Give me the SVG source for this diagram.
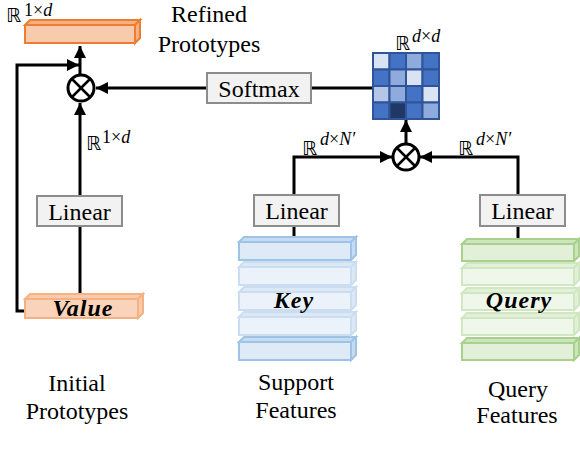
<svg xmlns="http://www.w3.org/2000/svg" width="580" height="460" viewBox="0 0 580 460">
<defs>
  <marker id="arr" viewBox="0 0 12 12" refX="12" refY="6" markerWidth="12" markerHeight="12" markerUnits="userSpaceOnUse" orient="auto">
    <path d="M0,0 L12,6 L0,12 Z" fill="#000"/>
  </marker>
</defs>
<g id="connectors" fill="none" stroke="#000" stroke-width="3">
  <line x1="80" y1="74" x2="80" y2="46" marker-end="url(#arr)"/>
  <polyline points="25,311 17,311 17,65 79,65" marker-end="url(#arr)"/>
  <line x1="80" y1="294" x2="80" y2="226"/>
  <line x1="80" y1="196" x2="80" y2="103" marker-end="url(#arr)"/>
  <line x1="207" y1="88" x2="96" y2="88" marker-end="url(#arr)"/>
  <line x1="373" y1="88" x2="311" y2="88"/>
  <line x1="406" y1="143" x2="406" y2="120" marker-end="url(#arr)"/>
  <polyline points="294,195 294,157 392,157" marker-end="url(#arr)"/>
  <line x1="294" y1="226" x2="294" y2="237"/>
  <polyline points="518,195 518,157 420,157" marker-end="url(#arr)"/>
  <line x1="518" y1="226" x2="518" y2="239"/>
</g>
<g id="refined">
  <g stroke="#ED7D31" stroke-width="2">
    <polygon fill="#F4B183" points="25,25 30,20 140,20 135,25"/>
    <rect fill="#F8CBAD" x="25" y="25" width="110" height="18"/>
    <polygon fill="#F4B183" points="135,25 140,20 140,38 135,43"/>
  </g>
  <text font-family="DejaVu Sans" font-size="19" x="6" y="22">ℝ</text>
  <text font-family="Liberation Serif" font-size="18" x="24" y="16">1×<tspan font-style="italic">d</tspan></text>
  <text font-family="Liberation Serif" font-size="24" x="209" y="22" text-anchor="middle">Refined</text>
  <text font-family="Liberation Serif" font-size="24" x="209" y="52" text-anchor="middle">Prototypes</text>
</g>
<g id="mul1" stroke="#000">
  <circle fill="#fff" stroke-width="3" cx="81" cy="88" r="13"/>
  <line stroke-width="2.5" x1="72" y1="79" x2="90" y2="97"/>
  <line stroke-width="2.5" x1="90" y1="79" x2="72" y2="97"/>
</g>
<g id="softmax">
  <rect fill="#F2F2F2" stroke="#8C8C8C" stroke-width="2" x="207" y="73" width="104" height="30"/>
  <text font-family="Liberation Serif" font-size="24" x="259" y="97" text-anchor="middle">Softmax</text>
</g>
<g id="matrix">
  <g stroke="#2F5597" stroke-width="2">
    <rect x="373" y="53" width="16.5" height="16.5" fill="#DAE3F3"/>
    <rect x="389.5" y="53" width="16.5" height="16.5" fill="#4472C4"/>
    <rect x="406" y="53" width="16.5" height="16.5" fill="#8FAADC"/>
    <rect x="422.5" y="53" width="16.5" height="16.5" fill="#4472C4"/>
    <rect x="373" y="69.5" width="16.5" height="16.5" fill="#4472C4"/>
    <rect x="389.5" y="69.5" width="16.5" height="16.5" fill="#8FAADC"/>
    <rect x="406" y="69.5" width="16.5" height="16.5" fill="#DAE3F3"/>
    <rect x="422.5" y="69.5" width="16.5" height="16.5" fill="#4472C4"/>
    <rect x="373" y="86" width="16.5" height="16.5" fill="#B4C7E7"/>
    <rect x="389.5" y="86" width="16.5" height="16.5" fill="#8FAADC"/>
    <rect x="406" y="86" width="16.5" height="16.5" fill="#4472C4"/>
    <rect x="422.5" y="86" width="16.5" height="16.5" fill="#DAE3F3"/>
    <rect x="373" y="102.5" width="16.5" height="16.5" fill="#4472C4"/>
    <rect x="389.5" y="102.5" width="16.5" height="16.5" fill="#203864"/>
    <rect x="406" y="102.5" width="16.5" height="16.5" fill="#4472C4"/>
    <rect x="422.5" y="102.5" width="16.5" height="16.5" fill="#8FAADC"/>
  </g>
  <text font-family="DejaVu Sans" font-size="19" x="395" y="50">ℝ</text>
  <text font-family="Liberation Serif" font-size="18" font-style="italic" x="412" y="42">d<tspan font-style="normal">×</tspan>d</text>
</g>
<g id="mul2">
  <g stroke="#000">
    <circle fill="#fff" stroke-width="3" cx="406" cy="157" r="13"/>
    <line stroke-width="2.5" x1="397" y1="148" x2="415" y2="166"/>
    <line stroke-width="2.5" x1="415" y1="148" x2="397" y2="166"/>
  </g>
  <text font-family="DejaVu Sans" font-size="19" x="302" y="155">ℝ</text>
  <text font-family="Liberation Serif" font-size="18" font-style="italic" x="320" y="145">d<tspan font-style="normal">×</tspan>N′</text>
  <text font-family="DejaVu Sans" font-size="19" x="458" y="155">ℝ</text>
  <text font-family="Liberation Serif" font-size="18" font-style="italic" x="476" y="145">d<tspan font-style="normal">×</tspan>N′</text>
</g>
<g id="linear-value">
  <rect fill="#F2F2F2" stroke="#8C8C8C" stroke-width="2" x="37" y="196" width="85" height="30"/>
  <text font-family="Liberation Serif" font-size="24" x="79.5" y="220" text-anchor="middle">Linear</text>
  <text font-family="DejaVu Sans" font-size="19" x="86" y="150">ℝ</text>
  <text font-family="Liberation Serif" font-size="18" x="102" y="143">1×<tspan font-style="italic">d</tspan></text>
</g>
<g id="value">
  <g stroke="#F4B183" stroke-width="2">
    <polygon fill="#F8CBAD" points="25,299 30,294 143,294 138,299"/>
    <rect fill="#FAD4BA" x="25" y="299" width="113" height="19"/>
    <polygon fill="#F8CBAD" points="138,299 143,294 143,313 138,318"/>
  </g>
  <text font-family="Liberation Serif" font-size="24" font-weight="bold" font-style="italic" letter-spacing="1" x="83" y="316" text-anchor="middle">Value</text>
  <text font-family="Liberation Serif" font-size="24" x="77" y="391" text-anchor="middle">Initial</text>
  <text font-family="Liberation Serif" font-size="24" x="77" y="419" text-anchor="middle">Prototypes</text>
</g>
<g id="linear-key">
  <rect fill="#F2F2F2" stroke="#8C8C8C" stroke-width="2" x="254" y="195" width="85" height="31"/>
  <text font-family="Liberation Serif" font-size="24" x="296.5" y="219" text-anchor="middle">Linear</text>
</g>
<g id="key">
  <g stroke="#9DC3E6" stroke-width="2">
    <polygon fill="#C6DBF0" points="239,242 244,237 356,237 351,242"/>
    <rect fill="#DEEBF7" x="239" y="242" width="112" height="18"/>
    <polygon fill="#C6DBF0" points="351,242 356,237 356,255 351,260"/>
    <polygon fill="#C6DBF0" points="239,342 244,337 356,337 351,342"/>
    <rect fill="#DEEBF7" x="239" y="342" width="112" height="18"/>
    <polygon fill="#C6DBF0" points="351,342 356,337 356,355 351,360"/>
  </g>
  <g stroke="#CADDF1" stroke-width="2">
    <polygon fill="#DCE8F5" points="239,267 244,262 356,262 351,267"/>
    <rect fill="#EBF2FA" x="239" y="267" width="112" height="18"/>
    <polygon fill="#DCE8F5" points="351,267 356,262 356,280 351,285"/>
    <polygon fill="#DCE8F5" points="239,292 244,287 356,287 351,292"/>
    <rect fill="#EBF2FA" x="239" y="292" width="112" height="18"/>
    <polygon fill="#DCE8F5" points="351,292 356,287 356,305 351,310"/>
    <polygon fill="#DCE8F5" points="239,317 244,312 356,312 351,317"/>
    <rect fill="#EBF2FA" x="239" y="317" width="112" height="18"/>
    <polygon fill="#DCE8F5" points="351,317 356,312 356,330 351,335"/>
  </g>
  <text font-family="Liberation Serif" font-size="24" font-weight="bold" font-style="italic" letter-spacing="1" x="294" y="308" text-anchor="middle">Key</text>
  <text font-family="Liberation Serif" font-size="24" x="296" y="390" text-anchor="middle">Support</text>
  <text font-family="Liberation Serif" font-size="24" x="296" y="418" text-anchor="middle">Features</text>
</g>
<g id="linear-query">
  <rect fill="#F2F2F2" stroke="#8C8C8C" stroke-width="2" x="480" y="195" width="85" height="31"/>
  <text font-family="Liberation Serif" font-size="24" x="522.5" y="219" text-anchor="middle">Linear</text>
</g>
<g id="query">
  <g stroke="#A9D18E" stroke-width="2">
    <polygon fill="#CDE5BD" points="462,244 467,239 579,239 574,244"/>
    <rect fill="#E2F0D9" x="462" y="244" width="112" height="17"/>
    <polygon fill="#CDE5BD" points="574,244 579,239 579,256 574,261"/>
    <polygon fill="#CDE5BD" points="462,343 467,338 579,338 574,343"/>
    <rect fill="#E2F0D9" x="462" y="343" width="112" height="17"/>
    <polygon fill="#CDE5BD" points="574,343 579,338 579,355 574,360"/>
  </g>
  <g stroke="#D0E7C1" stroke-width="2">
    <polygon fill="#E2F0D9" points="462,268 467,263 579,263 574,268"/>
    <rect fill="#EFF7EA" x="462" y="268" width="112" height="17"/>
    <polygon fill="#E2F0D9" points="574,268 579,263 579,280 574,285"/>
    <polygon fill="#E2F0D9" points="462,293 467,288 579,288 574,293"/>
    <rect fill="#EFF7EA" x="462" y="293" width="112" height="17"/>
    <polygon fill="#E2F0D9" points="574,293 579,288 579,305 574,310"/>
    <polygon fill="#E2F0D9" points="462,318 467,313 579,313 574,318"/>
    <rect fill="#EFF7EA" x="462" y="318" width="112" height="17"/>
    <polygon fill="#E2F0D9" points="574,318 579,313 579,330 574,335"/>
  </g>
  <text font-family="Liberation Serif" font-size="24" font-weight="bold" font-style="italic" letter-spacing="1" x="519" y="308" text-anchor="middle">Query</text>
  <text font-family="Liberation Serif" font-size="24" x="518" y="397" text-anchor="middle">Query</text>
  <text font-family="Liberation Serif" font-size="24" x="517" y="423" text-anchor="middle">Features</text>
</g>
</svg>
